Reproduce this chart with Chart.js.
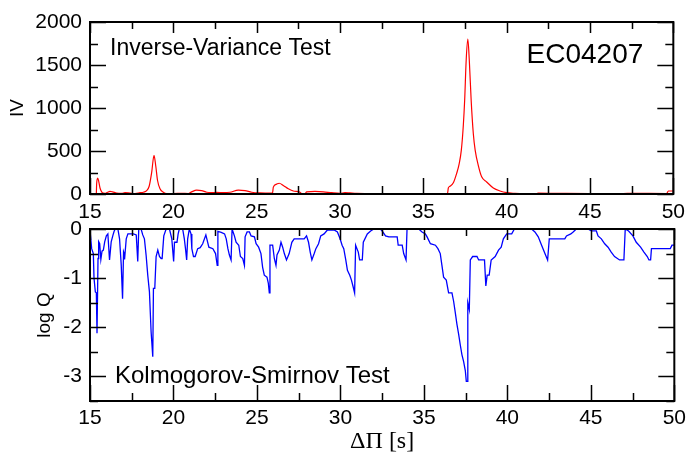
<!DOCTYPE html>
<html>
<head>
<meta charset="utf-8">
<script src="https://cdn.jsdelivr.net/npm/chart.js@4"></script>
<style>
    body { margin: 0; background: #fff; }
    #wrap { position: relative; width: 691px; height: 456px; }
    canvas { position: absolute; left: 0; }
    #ivChart { top: 0; }
    #ksChart { top: 208px; }
</style>
</head>
<body>
<div id="wrap">
    <canvas id="ivChart" width="691" height="222"></canvas>
    <canvas id="ksChart" width="691" height="248"></canvas>
</div>
<script>
// Period spacing grid (x axis, seconds)
const xMin = 15, xMax = 50;

// Inverse-variance test
const ivX = [15.38, 15.40, 15.46, 15.52, 15.6, 15.7, 15.8, 15.9, 16.05, 16.2, 16.35, 16.6, 16.9, 17.1, 17.4, 17.7,
    18.0, 18.2, 18.4, 18.55, 18.7, 18.84, 18.95, 19.05, 19.2, 19.4, 19.6, 20.0, 20.5, 20.9, 21.1, 21.4, 21.7,
    22.0, 22.3, 22.6, 23.0, 23.4, 23.9, 24.3, 24.7, 25.2, 25.95, 26.0, 26.2, 26.35, 26.6, 26.9, 27.2, 27.6,
    27.7, 27.9, 28.0, 28.5, 29.0, 29.5, 30.0, 30.3, 30.6, 31.0, 32.0, 33.0, 35.0, 36.45, 36.5, 36.6, 36.8,
    37.0, 37.15, 37.28, 37.4, 37.48, 37.57, 37.67, 37.76, 37.87, 38.0, 38.11, 38.3, 38.5, 38.8, 39.2, 39.6,
    40.0, 40.5, 41.0, 41.8, 41.9, 43.0, 45.0, 47.0, 47.5, 49.6, 49.7, 50.0];
const ivY = [0, 120, 185, 150, 70, 25, 10, 8, 20, 30, 25, 12, 8, 15, 10, 5,
    15, 20, 40, 90, 250, 450, 320, 160, 60, 20, 5, 5, 8, 5, 25, 45, 40,
    20, 15, 20, 15, 20, 45, 40, 20, 12, 10, 80, 115, 125, 100, 60, 35, 20,
    5, 5, 25, 30, 25, 15, 8, 15, 12, 8, 5, 5, 5, 5, 70, 90, 130,
    240, 350, 510, 800, 1090, 1550, 1800, 1550, 1090, 700, 510, 330, 200, 140, 70, 35,
    15, 8, 5, 5, 10, 8, 5, 5, 8, 5, 35, 35];

// Kolmogorov-Smirnov test, log Q
const ksX = [15.02, 15.1, 15.2, 15.24, 15.32, 15.38, 15.42, 15.48, 15.52, 15.58, 15.65, 15.72, 15.8, 15.88, 15.98,
    16.07, 16.17, 16.27, 16.38, 16.45, 16.52, 16.67, 16.77, 16.87, 16.95, 17.01, 17.05, 17.07, 17.17, 17.27,
    17.5, 17.6, 17.77, 17.86, 17.92, 18.06, 18.16, 18.26, 18.36, 18.46, 18.56, 18.66, 18.76, 18.8, 18.88,
    18.96, 19.06, 19.16, 19.26, 19.32, 19.42, 19.56, 19.76, 19.9, 20.01, 20.06, 20.21, 20.28, 20.35, 20.55,
    20.65, 20.72, 20.79, 20.85, 20.95, 21.05, 21.1, 21.2, 21.3, 21.45, 21.6, 21.75, 21.94, 22.12, 22.36,
    22.52, 22.62, 22.66, 22.86, 23.06, 23.16, 23.26, 23.35, 23.45, 23.51, 23.65, 23.75, 23.91, 24.01, 24.15,
    24.25, 24.29, 24.41, 24.55, 24.65, 24.85, 24.95, 25.1, 25.24, 25.34, 25.44, 25.6, 25.68, 25.74, 25.78,
    25.94, 26.04, 26.14, 26.2, 26.34, 26.44, 26.54, 26.64, 26.77, 26.93, 27.09, 27.23, 27.83, 27.97, 28.09,
    28.19, 28.29, 28.43, 28.53, 28.69, 28.82, 29.02, 29.22, 29.62, 29.82, 29.98, 30.1, 30.2, 30.32, 30.42,
    30.56, 30.66, 30.75, 30.85, 30.91, 31.07, 31.15, 31.31, 31.37, 31.61, 31.81, 32.0, 32.4, 32.54, 32.7,
    32.9, 33.4, 33.46, 33.7, 33.79, 33.93, 33.99, 34.69, 34.89, 35.09, 35.19, 35.39, 35.69, 35.84, 35.98,
    36.08, 36.18, 36.34, 36.48, 36.68, 36.78, 36.88, 36.98, 37.08, 37.18, 37.28, 37.38, 37.48, 37.54, 37.61,
    37.63, 37.72, 37.78, 37.92, 38.18, 38.28, 38.63, 38.71, 38.79, 38.91, 39.03, 39.27, 39.47, 39.63, 39.76,
    39.96, 40.26, 40.42, 41.45, 41.65, 41.85, 42.05, 42.25, 42.41, 42.51, 43.44, 43.54, 43.8, 43.94, 44.13,
    44.83, 45.03, 45.33, 45.43, 45.63, 45.83, 46.03, 46.22, 46.42, 46.72, 46.98, 47.06, 47.26, 47.52, 47.72,
    47.98, 48.18, 48.38, 48.48, 48.58, 48.63, 49.76, 49.86, 50.0];
const ksY = [-0.1, -0.4, -0.5, -1.0, -1.28, -1.3, -2.12, -0.6, -0.26, -0.3, -0.62, -0.45, -0.43, -0.26, -0.14,
    -0.1, -0.63, -0.26, -0.12, -0.04, 0, 0, -0.2, -0.73, -1.42, -0.46, -0.5, -0.62, -0.2, -0.1,
    -0.1, -0.1, -0.12, -0.66, 0, 0, -0.12, -0.2, -0.53, -0.94, -1.28, -2.09, -2.6, -1.21, -1.21,
    -0.56, -0.43, -0.56, -0.6, -0.6, -0.14, 0, 0, -0.2, -0.66, -0.27, -0.27, -0.1, 0, 0,
    -0.2, -0.4, -0.63, -0.2, 0, -0.1, -0.4, -0.56, -0.56, -0.4, -0.38, -0.3, -0.12, -0.37, -0.4,
    -0.5, -0.74, -0.05, -0.07, -0.1, -0.2, -0.4, -0.53, -0.63, 0, -0.14, -0.27, -0.33, -0.56, -0.6,
    -0.74, -0.16, -0.06, -0.06, -0.14, -0.16, -0.3, -0.37, -0.5, -0.78, -0.94, -0.98, -1.1, -1.3, -0.33,
    -0.33, -0.6, -0.74, -0.53, -0.43, -0.27, -0.37, -0.5, -0.63, -0.5, -0.27, -0.2, -0.2, -0.14, -0.27,
    -0.47, -0.63, -0.5, -0.4, -0.3, -0.14, -0.1, -0.02, -0.02, -0.06, -0.2, -0.33, -0.4, -0.63, -0.84,
    -0.94, -1.04, -1.16, -1.3, -0.33, -0.47, -0.63, -0.63, -0.27, -0.1, -0.04, 0, 0, -0.06, -0.14,
    -0.16, -0.16, -0.33, -0.33, -0.5, -0.63, 0, 0, -0.06, -0.1, -0.16, -0.3, -0.33, -0.4, -0.5,
    -0.74, -0.98, -1.04, -1.3, -1.3, -1.47, -1.7, -1.94, -2.14, -2.36, -2.56, -2.7, -2.88, -3.1, -3.1,
    -1.5, -1.64, -0.63, -0.56, -0.56, -0.63, -0.63, -1.16, -0.94, -0.94, -0.63, -0.56, -0.43, -0.37, -0.2,
    -0.1, -0.1, 0, 0, -0.06, -0.16, -0.33, -0.5, -0.63, -0.2, -0.2, -0.14, -0.1, -0.06, 0,
    0, -0.04, -0.04, -0.14, -0.2, -0.3, -0.37, -0.47, -0.56, -0.63, -0.63, 0, -0.04, -0.14, -0.27,
    -0.37, -0.47, -0.56, -0.63, -0.63, -0.4, -0.4, -0.33, -0.33];

const sans = 'Liberation Sans, Arial, sans-serif';
const isMultiple = (v, step) => Math.abs(v / step - Math.round(v / step)) < 1e-6;

// Frame + inward major/minor ticks on all four sides, plus panel labels
const framePlugin = {
    id: 'framePlugin',
    afterDraw(chart, args, opts) {
        const ctx = chart.ctx;
        const a = chart.chartArea;
        const xs = chart.scales.x, ys = chart.scales.y;
        ctx.save();
        ctx.strokeStyle = '#000';
        ctx.lineWidth = 1.5;
        ctx.beginPath();
        xs.ticks.forEach(t => {
            const px = Math.round(xs.getPixelForValue(t.value)) + 0.5;
            const major = isMultiple(t.value, opts.xMajor);
            const lb = major ? 16 : 8;
            const lt = major ? 11 : 7;
            ctx.moveTo(px, a.bottom); ctx.lineTo(px, a.bottom - lb);
            ctx.moveTo(px, a.top); ctx.lineTo(px, a.top + lt);
        });
        ys.ticks.forEach(t => {
            const py = Math.round(ys.getPixelForValue(t.value)) + 0.5;
            const len = isMultiple(t.value, opts.yMajor) ? 16 : 8;
            ctx.moveTo(a.left, py); ctx.lineTo(a.left + len, py);
            ctx.moveTo(a.right, py); ctx.lineTo(a.right - len, py);
        });
        ctx.stroke();
        ctx.lineWidth = 2;
        ctx.strokeRect(a.left, a.top, a.right - a.left, a.bottom - a.top);
        ctx.fillStyle = '#000';
        ctx.textBaseline = 'alphabetic';
        (opts.labels || []).forEach(l => {
            ctx.font = l.size + 'px ' + sans;
            ctx.textAlign = l.align || 'left';
            const x = l.align === 'right' ? a.right - l.dx : a.left + l.dx;
            const y = l.fromBottom ? a.bottom - l.dy : a.top + l.dy;
            ctx.fillText(l.text, x, y);
        });
        ctx.restore();
    }
};

function zip(xs, ys) {
    return xs.map((x, i) => ({ x: x, y: ys[i] }));
}

function xScale(height, labelPad, title) {
    return {
        type: 'linear',
        min: xMin,
        max: xMax,
        grid: { display: false, drawTicks: false },
        border: { display: false },
        ticks: {
            stepSize: 2.5,
            autoSkip: false,
            maxRotation: 0,
            padding: labelPad,
            color: '#000',
            font: { family: sans, size: 21 },
            callback: v => isMultiple(v, 5) ? v : ''
        },
        title: title,
        afterFit: s => { s.height = height; }
    };
}

// Top panel: inverse variance
new Chart(document.getElementById('ivChart'), {
    type: 'line',
    data: {
        datasets: [{
            data: zip(ivX, ivY),
            borderColor: '#ff0000',
            borderWidth: 1.2,
            pointRadius: 0,
            cubicInterpolationMode: 'monotone'
        }]
    },
    options: {
        responsive: false,
        animation: false,
        layout: { padding: { top: 22, right: 14, bottom: 0, left: 0 } },
        plugins: {
            legend: { display: false },
            tooltip: { enabled: false },
            framePlugin: {
                xMajor: 5,
                yMajor: 500,
                labels: [
                    { text: 'Inverse-Variance Test', size: 23, dx: 20, dy: 33 },
                    { text: 'EC04207', size: 28, dx: 30, dy: 41, align: 'right' }
                ]
            }
        },
        scales: {
            x: xScale(28, 6, { display: false }),
            y: {
                min: 0,
                max: 2000,
                grid: { display: false, drawTicks: false },
                border: { display: false },
                ticks: {
                    stepSize: 250,
                    autoSkip: false,
                    padding: 8,
                    color: '#000',
                    font: { family: sans, size: 21 },
                    callback: v => isMultiple(v, 500) ? v : ''
                },
                title: {
                    display: true,
                    text: 'IV',
                    color: '#000',
                    font: { family: sans, size: 19, lineHeight: 1 },
                    padding: { top: 8, bottom: 0 }
                },
                afterFit: s => { s.width = 90; }
            }
        }
    },
    plugins: [framePlugin]
});

// Bottom panel: Kolmogorov-Smirnov
new Chart(document.getElementById('ksChart'), {
    type: 'line',
    data: {
        datasets: [{
            data: zip(ksX, ksY),
            borderColor: '#0000ff',
            borderWidth: 1.3,
            pointRadius: 0,
            tension: 0
        }]
    },
    options: {
        responsive: false,
        animation: false,
        layout: { padding: { top: 21, right: 14, bottom: 0, left: 0 } },
        plugins: {
            legend: { display: false },
            tooltip: { enabled: false },
            framePlugin: {
                xMajor: 5,
                yMajor: 1,
                labels: [
                    { text: 'Kolmogorov-Smirnov Test', size: 24, dx: 25, dy: 18, fromBottom: true }
                ]
            }
        },
        scales: {
            x: xScale(55, 5, {
                display: true,
                text: '\u0394\u03A0 [s]',
                color: '#000',
                font: { family: 'Liberation Serif, Times New Roman, serif', size: 24, lineHeight: 1 },
                padding: { top: 0, bottom: 2 }
            }),
            y: {
                min: -3.5,
                max: 0,
                grid: { display: false, drawTicks: false },
                border: { display: false },
                ticks: {
                    stepSize: 0.5,
                    autoSkip: false,
                    padding: 8,
                    color: '#000',
                    font: { family: sans, size: 21 },
                    callback: v => isMultiple(v, 1) ? v : ''
                },
                title: {
                    display: true,
                    text: 'log Q',
                    color: '#000',
                    font: { family: sans, size: 19, lineHeight: 1 },
                    padding: { top: 35, bottom: 0 }
                },
                afterFit: s => { s.width = 90; }
            }
        }
    },
    plugins: [framePlugin]
});
</script>
</body>
</html>
